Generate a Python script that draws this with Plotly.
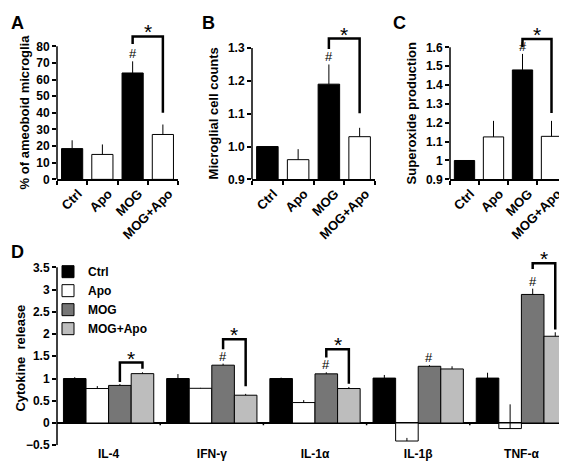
import plotly.graph_objects as go

# ---------------- data ----------------
groups = ["Ctrl", "Apo", "MOG", "MOG+Apo"]

a_vals = [18.5, 15.0, 64.0, 27.0]
a_err = [5.0, 6.0, 7.0, 6.0]
b_vals = [1.0, 0.96, 1.19, 1.03]
b_err = [0.0, 0.032, 0.06, 0.027]
c_vals = [1.0, 1.125, 1.48, 1.128]
c_err = [0.0, 0.085, 0.085, 0.082]

abc_bracket = {  # left-leg bottom, top, right-leg bottom
    "A": [81.5, 86.0, 40.0],
    "B": [1.297, 1.329, 1.101],
    "C": [1.60, 1.644, 1.252],
}

cytokines = ["IL-4", "IFN-γ", "IL-1α", "IL-1β", "TNF-α"]
d_vals = {
    "Ctrl": [1.0, 1.0, 1.0, 1.01, 1.01],
    "Apo": [0.775, 0.78, 0.46, -0.405, -0.125],
    "MOG": [0.845, 1.30, 1.105, 1.275, 2.89],
    "MOG+Apo": [1.11, 0.625, 0.775, 1.215, 1.95],
}
d_err = {
    "Ctrl": [0.03, 0.10, 0.02, 0.07, 0.12],
    "Apo": [0.055, 0.01, 0.055, 0.07, 0.545],
    "MOG": [0.03, 0.035, 0.035, 0.025, 0.13],
    "MOG+Apo": [0.03, 0.03, 0.035, 0.06, 0.09],
}
d_brackets = {  # cytokine index: left-leg bottom, top, right-leg bottom
    0: [0.92, 1.36, 1.22],
    1: [1.66, 1.88, 0.825],
    2: [1.47, 1.66, 0.88],
    4: [3.46, 3.59, 2.10],
}
d_hash = [1, 2, 3, 4]  # cytokines with '#' over MOG

colors_abc = ["black", "white", "black", "white"]
colors_d = {"Ctrl": "black", "Apo": "white", "MOG": "#767676", "MOG+Apo": "#bdbdbd"}

FONT = "Liberation Sans, Arial, sans-serif"
W, H = 567, 461

fig = go.Figure()

panels = [
    ("A", a_vals, a_err, "x", "y", [0, 94.2], list(range(0, 81, 10)), 80),
    ("B", b_vals, b_err, "x2", "y2", [0.9, 1.377], [0.9, 1.0, 1.1, 1.2, 1.3], 1.3),
    ("C", c_vals, c_err, "x3", "y3", [0.9, 1.73], [0.9, 1, 1.1, 1.2, 1.3, 1.4, 1.5, 1.6], 1.6),
]

shapes = []
annotations = []

for name, vals, err, xa, ya, rng, tv, top in panels:
    fig.add_trace(go.Bar(
        x=groups, y=vals, xaxis=xa, yaxis=ya, width=0.7,
        marker=dict(color=colors_abc, line=dict(color="black", width=1)),
        error_y=dict(type="data", array=err, arrayminus=[0] * 4, symmetric=False,
                     color="black", thickness=1, width=0),
        showlegend=False,
    ))
    lb, tp, rb = abc_bracket[name]
    fig.add_trace(go.Scatter(
        x=[groups[2], groups[2], groups[3], groups[3]], y=[lb, tp, tp, rb],
        mode="lines", line=dict(color="black", width=2.5), xaxis=xa, yaxis=ya,
        showlegend=False, hoverinfo="skip",
    ))
    annotations.append(dict(x=2.5, y=tp, xref=xa, yref=ya, text="*", showarrow=False,
                            yanchor="bottom", font=dict(size=21, family=FONT, weight="normal"), yshift=-9))
    annotations.append(dict(x=2, y=vals[2] + err[2], xref=xa, yref=ya, text="#", showarrow=False,
                            yanchor="bottom", font=dict(size=13, family=FONT, weight="normal"), yshift=-2))
    dom = xa + " domain" if xa != "x" else "x domain"
    shapes.append(dict(type="line", xref=dom, yref=ya,
                       x0=0, x1=0, y0=rng[0], y1=top, line=dict(color="black", width=1.5)))

# ---------------- panel D ----------------
nser = len(groups)
gw = 0.875
bw = gw / nser
for k, g in enumerate(groups):
    fig.add_trace(go.Bar(
        x=list(range(len(cytokines))), y=d_vals[g], name=g, xaxis="x4", yaxis="y4",
        width=bw, offset=-gw / 2 + k * bw,
        marker=dict(color=colors_d[g], line=dict(color="black", width=1)),
        error_y=dict(type="data", array=d_err[g], arrayminus=[0] * 5, symmetric=False,
                     color="black", thickness=1, width=0),
    ))

def center(i, k):
    return i - gw / 2 + (k + 0.5) * bw

for i, (lb, tp, rb) in d_brackets.items():
    xl, xr = center(i, 2), center(i, 3)
    fig.add_trace(go.Scatter(
        x=[xl, xl, xr, xr], y=[lb, tp, tp, rb], mode="lines",
        line=dict(color="black", width=2.5), xaxis="x4", yaxis="y4",
        showlegend=False, hoverinfo="skip",
    ))
    annotations.append(dict(x=(xl + xr) / 2, y=tp, xref="x4", yref="y4", text="*", showarrow=False,
                            yanchor="bottom", font=dict(size=21, family=FONT, weight="normal"), yshift=-9))
for i in d_hash:
    annotations.append(dict(x=center(i, 2), y=d_vals["MOG"][i] + d_err["MOG"][i], xref="x4", yref="y4",
                            text="#", showarrow=False, yanchor="bottom",
                            font=dict(size=13, family=FONT, weight="normal"), yshift=-2))

shapes.append(dict(type="line", xref="x4 domain", yref="y4", x0=0, x1=0, y0=-0.5, y1=3.5,
                   line=dict(color="black", width=1.5)))
for i in range(len(cytokines)):
    shapes.append(dict(type="line", xref="x4", yref="y4", x0=i + 0.5, x1=i + 0.5, y0=0, y1=-0.05,
                       line=dict(color="black", width=1.5)))

# panel letters
for letter, xp, yp in [("A", 1, 3), ("B", 192, 3), ("C", 383, 3), ("D", 1, 236)]:
    annotations.append(dict(x=xp / W, y=1 - yp / H, xref="paper", yref="paper", text=letter,
                            showarrow=False, xanchor="left", yanchor="top",
                            font=dict(size=18, family=FONT, weight="bold", color="black")))

# y-axis titles (placed as rotated texts)
titlefont = dict(size=13, family=FONT, weight="bold", color="black")
for txt, xp, yp in [("% of ameoboid microglia", 16, 106), ("Microglial cell counts", 205, 107),
                    ("Superoxide production", 403, 107), ("Cytokine  release", 13, 356)]:
    annotations.append(dict(x=xp / W, y=1 - yp / H, xref="paper", yref="paper", text=txt,
                            textangle=-90, showarrow=False, xanchor="center", yanchor="middle",
                            font=titlefont))

tickfont = dict(size=12, family=FONT, weight="bold", color="black")

def xcat(domain, anchor):
    return dict(domain=domain, anchor=anchor, type="category", showline=True, linecolor="black",
                linewidth=1.5, ticks="outside", tickson="boundaries", ticklen=4, tickcolor="black",
                tickwidth=1.5, tickangle=-45, tickfont=dict(size=13, family=FONT, weight="bold", color="black"),
                ticklabelshift=6, fixedrange=True)

def yax(domain, rng, tv, anchor, fmt=None):
    d = dict(domain=domain, range=rng, tickvals=tv, showline=False, ticks="outside", ticklen=4,
             tickcolor="black", tickwidth=1.5, tickfont=tickfont, showgrid=False, zeroline=False,
             anchor=anchor, fixedrange=True)
    if fmt:
        d["tickformat"] = fmt
    return d

ydomABC = [1 - 174 / H, 1 - 15 / H]

fig.update_layout(
    width=W, height=H, margin=dict(l=0, r=0, t=0, b=0),
    paper_bgcolor="white", plot_bgcolor="white",
    font=dict(family=FONT, color="black"),
    barmode="group",
    xaxis=xcat([49 / W, 170 / W], "y"),
    yaxis=yax(ydomABC, [0, 94.2], list(range(0, 81, 10)), "x"),
    xaxis2=xcat([244 / W, 367 / W], "y2"),
    yaxis2=yax(ydomABC, [0.9, 1.377], [0.9, 1.0, 1.1, 1.2, 1.3], "x2", ".1f"),
    xaxis3=xcat([442 / W, 558 / W], "y3"),
    yaxis3=yax(ydomABC, [0.9, 1.73], [0.9, 1, 1.1, 1.2, 1.3, 1.4, 1.5, 1.6], "x3"),
    xaxis4=dict(domain=[49 / W, 565 / W], range=[-0.5, len(cytokines) - 0.5], anchor="y4",
                tickvals=list(range(len(cytokines))), ticktext=cytokines, ticks="", showline=False,
                showgrid=False, zeroline=False, tickfont=tickfont, fixedrange=True),
    yaxis4=dict(yax([1 - 444 / H, 1 - 245 / H], [-0.5, 3.905],
                    [-0.5, 0, 0.5, 1, 1.5, 2, 2.5, 3, 3.5], "x4"),
                zeroline=True, zerolinecolor="black", zerolinewidth=1.5),
    legend=dict(x=40 / W, y=1 - 253 / H, xanchor="left", yanchor="top", bgcolor="rgba(0,0,0,0)",
                font=dict(size=12, family=FONT, weight="bold", color="black"), tracegroupgap=0,
                itemwidth=30),
    shapes=shapes, annotations=annotations,
)

fig.write_html("out.html")
